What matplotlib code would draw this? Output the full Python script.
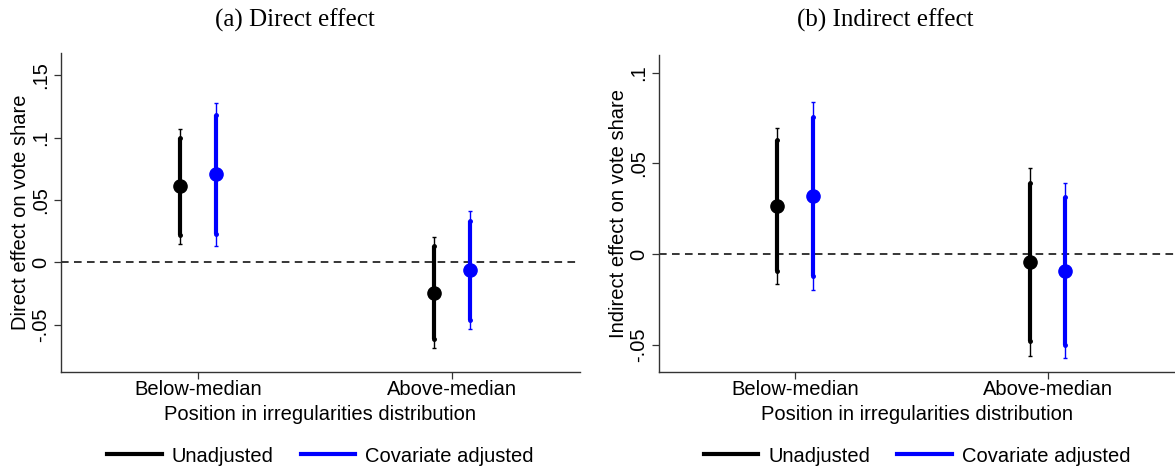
import numpy as np
import matplotlib
matplotlib.use('Agg')
import matplotlib.pyplot as plt
from matplotlib.lines import Line2D

# ----------------------------------------------------------------------
# Data
categories = ['Below-median', 'Above-median']
series = ['Unadjusted', 'Covariate adjusted']
colors = ['black', '#0000ff']

# (a) Direct effect
direct_est = [[0.061, -0.0247], [0.0705, -0.0064]]
direct_lo90 = [[0.0223, -0.0617], [0.0228, -0.0461]]
direct_hi90 = [[0.0995, 0.0129], [0.1185, 0.0335]]
direct_lo95 = [[0.0147, -0.0689], [0.0134, -0.0536]]
direct_hi95 = [[0.1072, 0.0201], [0.128, 0.0413]]

# (b) Indirect effect
indirect_est = [[0.0265, -0.0046], [0.032, -0.0094]]
indirect_lo90 = [[-0.0094, -0.048], [-0.012, -0.05]]
indirect_hi90 = [[0.0627, 0.039], [0.0757, 0.0316]]
indirect_lo95 = [[-0.0164, -0.0563], [-0.0199, -0.0575]]
indirect_hi95 = [[0.0693, 0.0472], [0.0838, 0.039]]

direct_ticks = [-0.05, 0, 0.05, 0.1, 0.15]
direct_ticklabels = ['-.05', '0', '.05', '.1', '.15']
indirect_ticks = [-0.05, 0, 0.05, 0.1]
indirect_ticklabels = ['-.05', '0', '.05', '.1']

sans = ['Liberation Sans', 'DejaVu Sans']
serif = ['Liberation Serif', 'DejaVu Serif']
fsize = 14.5


# ----------------------------------------------------------------------
def drawPanel(ax, est, lo90, hi90, lo95, hi95, ticks, ticklabels, ylim, ylabel):
    '''
    Draw one coefficient panel
    '''
    xpos = np.arange(1, len(categories) + 1)
    offsets = [-0.071, 0.071]

    ax.axhline(0, color='black', lw=1.1, ls=(0, (5, 3.5)), zorder=1)

    for i in range(len(series)):
        x = xpos + offsets[i]
        c = colors[i]
        xx = np.tile(x, 2)
        # thin (95%) interval
        ax.vlines(x, lo95[i], hi95[i], color=c, lw=1.0, zorder=2)
        ax.plot(xx, np.concatenate([lo95[i], hi95[i]]), ls='none',
                marker='_', ms=3, mew=1.0, color=c, zorder=2)
        # thick (90%) interval
        ax.vlines(x, lo90[i], hi90[i], color=c, lw=3.0, zorder=3)
        ax.plot(xx, np.concatenate([lo90[i], hi90[i]]), ls='none',
                marker='o', ms=2.5, color=c, zorder=3)
        # point estimate
        ax.plot(x, est[i], ls='none', marker='o', ms=9.5, color=c, zorder=4)

    ax.set_xlim(0.46, 2.505)
    ax.set_ylim(*ylim)
    ax.set_xticks(xpos)
    ax.set_xticklabels(categories, family=sans, fontsize=fsize)
    ax.set_yticks(ticks)
    ax.set_yticklabels(ticklabels, family=sans, fontsize=fsize, rotation=90, va='center')
    ax.tick_params(axis='both', direction='out', length=5, width=0.9, color='#333333')
    ax.tick_params(axis='x', pad=1)
    ax.tick_params(axis='y', pad=3)
    ax.set_xlabel('Position in irregularities distribution', family=sans,
                  fontsize=fsize, labelpad=4)
    ax.set_ylabel(ylabel, family=sans, fontsize=fsize, labelpad=0.5)

    for s in ['top', 'right']:
        ax.spines[s].set_visible(False)
    for s in ['left', 'bottom']:
        ax.spines[s].set_color('#333333')
        ax.spines[s].set_linewidth(1.0)
    return


# ----------------------------------------------------------------------
W, H = 1175, 468
fig = plt.figure(figsize=(W / 100., H / 100.), dpi=100)
fig.patch.set_facecolor('white')

ax1 = fig.add_axes([61. / W, (H - 372.) / H, (580. - 61.) / W, (372. - 53.) / H])
ax2 = fig.add_axes([659. / W, (H - 372.) / H, (W - 659.) / W, (372. - 55.) / H])

drawPanel(ax1, direct_est, direct_lo90, direct_hi90, direct_lo95, direct_hi95,
          direct_ticks, direct_ticklabels, (-0.088, 0.168), 'Direct effect on vote share')
drawPanel(ax2, indirect_est, indirect_lo90, indirect_hi90, indirect_lo95, indirect_hi95,
          indirect_ticks, indirect_ticklabels, (-0.065, 0.1097), 'Indirect effect on vote share')

# Titles
fig.text(295. / W, 1 - 20. / H, '(a) Direct effect', ha='center', va='center',
         family=serif, fontsize=18)
fig.text(885. / W, 1 - 20. / H, '(b) Indirect effect', ha='center', va='center',
         family=serif, fontsize=18)

# Legends
handles = [Line2D([], [], color=c, lw=3) for c in colors]
for cx in [(61. + 580.) / 2. / W, (659. + W) / 2. / W]:
    fig.legend(handles, series, loc='center', bbox_to_anchor=(cx, 1 - 456. / H),
               ncol=2, frameon=False, handlelength=2.7, handletextpad=0.5,
               columnspacing=1.35, borderpad=0, prop={'family': sans, 'size': fsize})

fig.savefig('out.png', dpi=100, facecolor='white')
